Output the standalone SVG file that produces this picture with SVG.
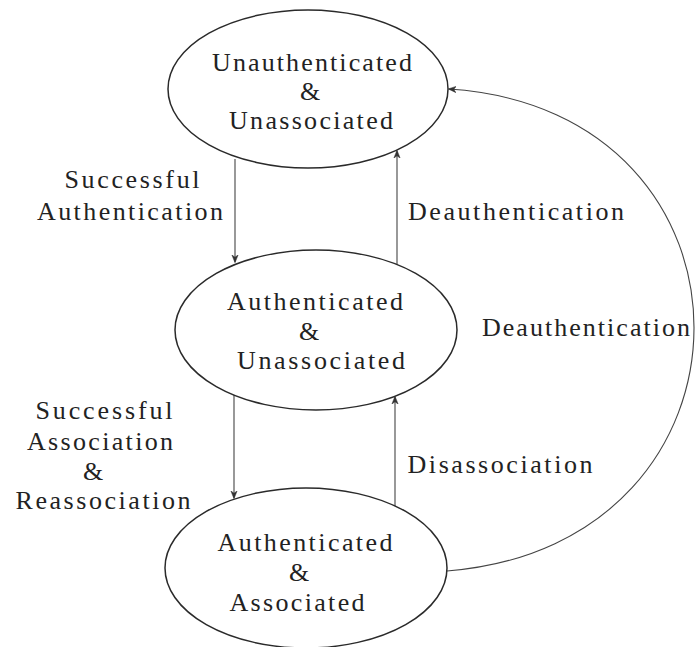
<svg xmlns="http://www.w3.org/2000/svg" width="696" height="647" viewBox="0 0 696 647">
<style>
.st{fill:none;stroke:#2a2a2a;stroke-width:1.5}
.t{font-family:"Liberation Serif","Times New Roman",serif;font-size:26px;fill:#222;text-anchor:middle}
.c{fill:none;stroke:#444;stroke-width:1.1}
</style>
<defs>
<marker id="ah" viewBox="0 0 10 10" refX="9" refY="5" markerWidth="8" markerHeight="8" markerUnits="userSpaceOnUse" orient="auto">
<path d="M0,1 L10,5 L0,9 L3,5 Z" fill="#333" stroke="#333" stroke-width="0.6"/>
</marker>
</defs>
<rect width="696" height="647" fill="#ffffff"/>
<g id="connectors">
<path class="c" d="M235,159 L235,262" marker-end="url(#ah)"/>
<path class="c" d="M397,264 L397,151" marker-end="url(#ah)"/>
<path class="c" d="M234,395 L234,498" marker-end="url(#ah)"/>
<path class="c" d="M395,506 L395,397" marker-end="url(#ah)"/>
<path class="c" d="M447,571 C776,545 776,110 449,89" marker-end="url(#ah)"/>
<text class="t" x="132" y="188" textLength="135" lengthAdjust="spacing">Successful</text>
<text class="t" x="130" y="220" textLength="186" lengthAdjust="spacing">Authentication</text>
<text class="t" x="516" y="220" textLength="216" lengthAdjust="spacing">Deauthentication</text>
<text class="t" x="586" y="336" textLength="208" lengthAdjust="spacing">Deauthentication</text>
<text class="t" x="500" y="473" textLength="185" lengthAdjust="spacing">Disassociation</text>
<text class="t" x="104" y="419" textLength="137" lengthAdjust="spacing">Successful</text>
<text class="t" x="100" y="450" textLength="146" lengthAdjust="spacing">Association</text>
<text class="t" x="93" y="480">&amp;</text>
<text class="t" x="103" y="509" textLength="175" lengthAdjust="spacing">Reassociation</text>
</g>
<g id="unauth-unassoc">
<ellipse class="st" cx="308" cy="89" rx="140" ry="79"/>
<text class="t" x="312" y="71" textLength="200" lengthAdjust="spacing">Unauthenticated</text>
<text class="t" x="310" y="100">&amp;</text>
<text class="t" x="311" y="129" textLength="164" lengthAdjust="spacing">Unassociated</text>
</g>
<g id="auth-unassoc">
<ellipse class="st" cx="316" cy="330" rx="141" ry="80"/>
<text class="t" x="315" y="310" textLength="176" lengthAdjust="spacing">Authenticated</text>
<text class="t" x="309" y="340">&amp;</text>
<text class="t" x="321" y="369" textLength="168" lengthAdjust="spacing">Unassociated</text>
</g>
<g id="auth-assoc">
<ellipse class="st" cx="306" cy="568" rx="141" ry="80"/>
<text class="t" x="305" y="551" textLength="175" lengthAdjust="spacing">Authenticated</text>
<text class="t" x="299" y="581">&amp;</text>
<text class="t" x="297" y="611" textLength="135" lengthAdjust="spacing">Associated</text>
</g>
</svg>
